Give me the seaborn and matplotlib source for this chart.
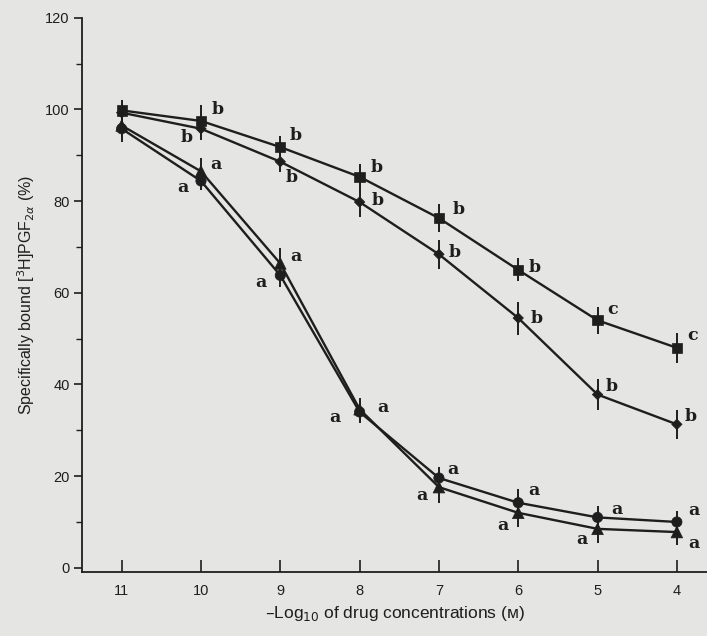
import matplotlib
matplotlib.use("Agg")
import matplotlib.pyplot as plt
import seaborn as sns
import pandas as pd

# ── Data ─────────────────────────────────────────────────────────────────────
DOSES = [11, 10, 9, 8, 7, 6, 5, 4]          # -log10 [drug] (M)
X_TICKS = [11, 10, 9, 8, 7, 6, 5, 4]
Y_TICKS = [0, 20, 40, 60, 80, 100, 120]

SQUARE = [99.8, 97.5, 91.8, 85.3, 76.3, 65.0, 54.0, 48.0]
SQUARE_ERR = [2.2, 3.5, 2.5, 2.7, 3.1, 2.5, 2.9, 3.3]
SQUARE_LBL = ["", "b", "b", "b", "b", "b", "c", "c"]

DIAMOND = [99.3, 95.8, 88.6, 79.8, 68.4, 54.5, 37.8, 31.3]
DIAMOND_ERR = [2.0, 2.5, 2.2, 3.3, 3.1, 3.6, 3.3, 3.1]
DIAMOND_LBL = ["", "b", "b", "b", "b", "b", "b", "b"]

TRIANGLE = [96.5, 86.5, 66.4, 34.6, 17.6, 12.0, 8.5, 7.8]
TRIANGLE_ERR = [2.5, 3.0, 3.4, 2.5, 3.5, 3.0, 3.0, 2.8]
TRIANGLE_LBL = ["", "a", "a", "a", "a", "a", "a", "a"]

CIRCLE = [95.8, 84.4, 63.8, 34.0, 19.6, 14.2, 11.0, 10.0]
CIRCLE_ERR = [3.0, 2.0, 2.5, 2.5, 2.5, 3.0, 2.5, 2.5]
CIRCLE_LBL = ["", "a", "a", "a", "a", "a", "a", "a"]

# ── Style ────────────────────────────────────────────────────────────────────
BG = "#e5e5e3"
INK = "#1e1e1e"

# letter offsets (points) for each marker
OFFSETS = {
    "square":   [(0, 0), (12, 8), (11, 8), (12, 7), (14, 6), (12, 2), (11, 8), (11, 9)],
    "diamond":  [(0, 0), (-10, -6), (8, -11), (13, 1), (11, 1), (13, 0), (10, 6), (10, 6)],
    "triangle": [(0, 0), (11, 5), (11, 5), (17, 1), (-12, -6), (-11, -9), (-11, -8), (12, -8)],
    "circle":   [(0, 0), (-13, -5), (-14, -5), (-18, -4), (10, 6), (11, 9), (14, 6), (12, 8)],
}

series = {
    "square": (SQUARE, SQUARE_ERR, SQUARE_LBL),
    "diamond": (DIAMOND, DIAMOND_ERR, DIAMOND_LBL),
    "triangle": (TRIANGLE, TRIANGLE_ERR, TRIANGLE_LBL),
    "circle": (CIRCLE, CIRCLE_ERR, CIRCLE_LBL),
}

rows = []
for name, (vals, errs, lbls) in series.items():
    for d, v, e, l in zip(DOSES, vals, errs, lbls):
        rows.append({"series": name, "dose": d, "value": v, "err": e, "label": l})
df = pd.DataFrame(rows)

sns.set_theme(style="ticks")
plt.rcParams["font.family"] = ["Liberation Sans", "DejaVu Sans"]

fig = plt.figure(figsize=(7.07, 6.36), dpi=100)
fig.patch.set_facecolor(BG)
ax = fig.add_axes([0.116, 0.100, 0.884, 0.872])
ax.set_facecolor(BG)

ink_pal = {k: INK for k in series}
sns.lineplot(data=df, x="dose", y="value", hue="series", palette=ink_pal,
             estimator=None, sort=True, linewidth=1.7, legend=False, ax=ax)
ax.errorbar(df["dose"], df["value"], yerr=df["err"], fmt="none",
            ecolor=INK, elinewidth=1.4, capsize=0, zorder=3)
sns.scatterplot(data=df, x="dose", y="value", hue="series", palette=ink_pal,
                style="series",
                markers={"square": "s", "diamond": "D", "triangle": "^", "circle": "o"},
                size="series",
                sizes={"square": 55, "diamond": 28, "triangle": 70, "circle": 55},
                edgecolor=INK, linewidth=0.5, legend=False, zorder=4, ax=ax)

for name in series:
    sub = df[df["series"] == name].reset_index(drop=True)
    for i, r in sub.iterrows():
        if not r["label"]:
            continue
        ax.annotate(r["label"], (r["dose"], r["value"]),
                    xytext=OFFSETS[name][i], textcoords="offset points",
                    ha="center", va="center", fontsize=12.5, fontweight="bold",
                    family="DejaVu Serif", color=INK, annotation_clip=False)

ax.set_xlim(11.5, 3.62)
ax.set_ylim(-1, 120)
ax.set_xticks(X_TICKS)
ax.set_xticklabels([str(t) for t in X_TICKS])
ax.set_yticks(Y_TICKS)
ax.set_yticks([10, 30, 50, 70, 90, 110], minor=True)

ax.tick_params(axis="x", direction="in", length=9, width=1.2, colors=INK,
               labelsize=10.5, pad=8)
ax.tick_params(axis="y", which="major", direction="out", length=6, width=1.2,
               colors=INK, labelsize=10.5, pad=3)
ax.tick_params(axis="y", which="minor", direction="out", length=4, width=1.0, colors=INK)

for s in ("top", "right"):
    ax.spines[s].set_visible(False)
for s in ("left", "bottom"):
    ax.spines[s].set_color(INK)
    ax.spines[s].set_linewidth(1.3)

ax.set_xlabel("\u2013Log$_{10}$ of drug concentrations (\u1d0d)", fontsize=12.5,
              color=INK, labelpad=5)
ax.set_ylabel("Specifically bound [$^3$H]PGF$_{2\\alpha}$ (%)", fontsize=11.5,
              color=INK, labelpad=6)

fig.savefig("out.png", dpi=100, facecolor=BG)
